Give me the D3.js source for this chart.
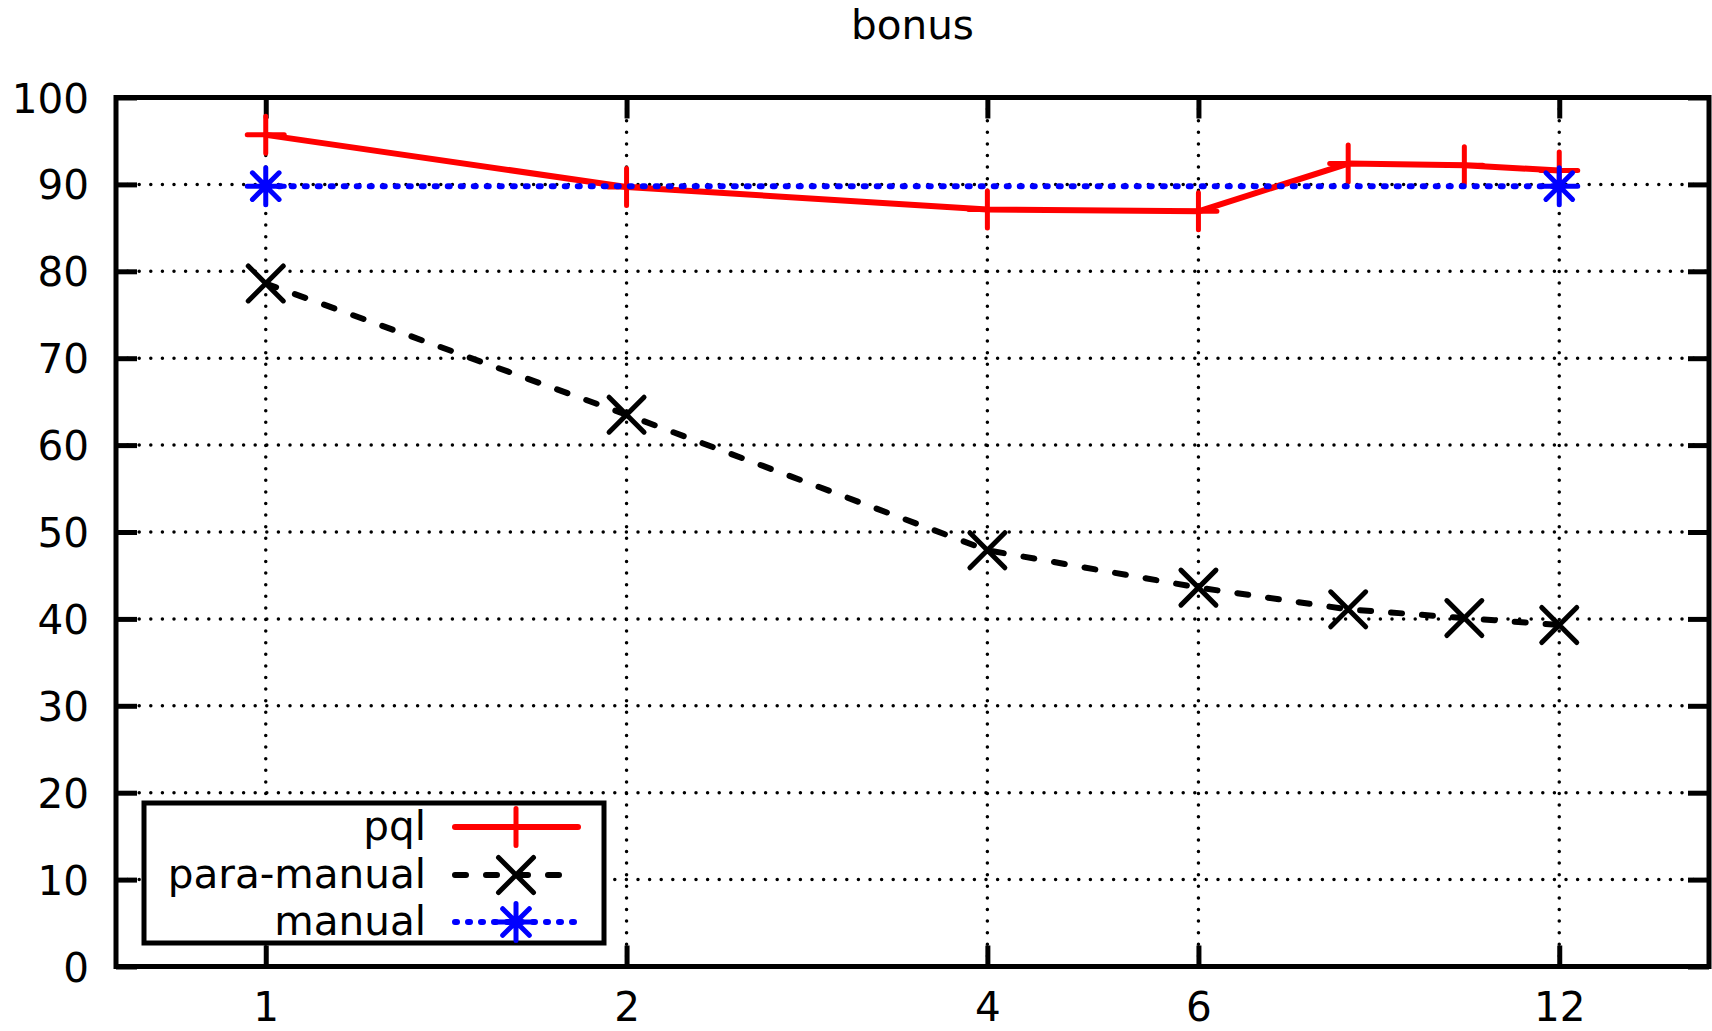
<!DOCTYPE html>
<html>
<head>
<meta charset="utf-8">
<script src="https://cdn.jsdelivr.net/npm/d3@7"></script>
<style>
html,body{margin:0;padding:0;background:#fff;}
svg{display:block;}
text{font-family:"DejaVu Sans",sans-serif;fill:#000;}
</style>
</head>
<body>
<svg id="chart" width="1712" height="1031"></svg>
<script>
// ---- data ----
const title = "bonus";
const xValues = [1, 2, 4, 6, 8, 10, 12];
const pqlValues = [95.7, 89.7, 87.1, 86.9, 92.4, 92.2, 91.6];
const paraManualValues = [78.6, 63.5, 47.9, 43.6, 41.1, 40.1, 39.3];
const manualX = [1, 12];
const manualValues = [89.8, 89.8];
const xTickValues = [1, 2, 4, 6, 12];
const xTickLabels = ["1", "2", "4", "6", "12"];
const yTickValues = [0, 10, 20, 30, 40, 50, 60, 70, 80, 90, 100];
const seriesNames = ["pql", "para-manual", "manual"];

// ---- layout ----
const plotL = 116, plotR = 1709, plotT = 97.5, plotB = 966.5;
const FS = 40.5;

const svg = d3.select("#chart");
const x = d3.scaleLog().domain([0.75, 16]).range([plotL, plotR]);
const y = d3.scaleLinear().domain([0, 100]).range([plotB, plotT]);

// grid
const gridG = svg.append("g");
gridG.selectAll("line.gy").data(yTickValues.filter(v => v > 0 && v < 100)).join("line")
  .attr("x1", plotL).attr("x2", plotR)
  .attr("y1", d => y(d)).attr("y2", d => y(d))
  .attr("stroke", "#000").attr("stroke-width", 3.5)
  .attr("stroke-dasharray", "0,11.6").attr("stroke-linecap", "round");
gridG.selectAll("line.gx").data(xTickValues).join("line")
  .attr("x1", d => x(d)).attr("x2", d => x(d))
  .attr("y1", plotT).attr("y2", plotB)
  .attr("stroke", "#000").attr("stroke-width", 3.5)
  .attr("stroke-dasharray", "0,11.6").attr("stroke-linecap", "round");

// axes (ticks inward, mirrored)
const tickLen = 21;
function styleAxis(g) {
  g.select(".domain").remove();
  g.selectAll(".tick line").attr("stroke", "#000").attr("stroke-width", 5);
}
svg.append("g").attr("transform", `translate(0,${plotB})`)
  .call(d3.axisBottom(x).tickValues(xTickValues).tickSize(-tickLen).tickFormat((d, i) => xTickLabels[i]))
  .call(styleAxis)
  .call(g => g.selectAll(".tick text").attr("y", 1021 - plotB).attr("dy", 0)
    .attr("font-size", FS).attr("font-family", "DejaVu Sans").attr("fill", "#000"));
svg.append("g").attr("transform", `translate(0,${plotT})`)
  .call(d3.axisTop(x).tickValues(xTickValues).tickSize(-tickLen).tickFormat(""))
  .call(styleAxis);
svg.append("g").attr("transform", `translate(${plotL},0)`)
  .call(d3.axisLeft(y).tickValues(yTickValues).tickSize(-tickLen))
  .call(styleAxis)
  .call(g => g.selectAll(".tick text").attr("x", 89 - plotL).attr("dy", 0).attr("y", 14.5)
    .attr("text-anchor", "end")
    .attr("font-size", FS).attr("font-family", "DejaVu Sans").attr("fill", "#000"));
svg.append("g").attr("transform", `translate(${plotR},0)`)
  .call(d3.axisRight(y).tickValues(yTickValues).tickSize(-tickLen).tickFormat(""))
  .call(styleAxis);

// frame
svg.append("rect").attr("x", plotL).attr("y", plotT).attr("width", plotR - plotL).attr("height", plotB - plotT)
  .attr("fill", "none").attr("stroke", "#000").attr("stroke-width", 5);

// title
svg.append("text").attr("x", (plotL + plotR) / 2).attr("y", 39).attr("text-anchor", "middle")
  .attr("font-size", FS).text(title);

// marker shapes
function plusPath(s) { return `M${-s},0H${s}M0,${-s}V${s}`; }
function crossPath(s) { return `M${-s},${-s}L${s},${s}M${-s},${s}L${s},${-s}`; }
function starPath(s) { return plusPath(s) + crossPath(s * 0.72); }

const styles = [
  { color: "#ff0000", dash: null, marker: plusPath(18.5) },
  { color: "#000000", dash: "11,20", marker: crossPath(17.5) },
  { color: "#0000ff", dash: "2,11", marker: starPath(18.5) }
];
const seriesData = [
  xValues.map((d, i) => [d, pqlValues[i]]),
  xValues.map((d, i) => [d, paraManualValues[i]]),
  manualX.map((d, i) => [d, manualValues[i]])
];

const line = d3.line().x(d => x(d[0])).y(d => y(d[1]));
const plotG = svg.append("g");
seriesData.forEach((data, si) => {
  const st = styles[si];
  const p = plotG.append("path").datum(data).attr("d", line)
    .attr("fill", "none").attr("stroke", st.color).attr("stroke-width", 6)
    .attr("stroke-linecap", "round").attr("stroke-linejoin", "round");
  if (st.dash) p.attr("stroke-dasharray", st.dash);
  plotG.selectAll(null).data(data).join("path")
    .attr("transform", d => `translate(${x(d[0])},${y(d[1])})`)
    .attr("d", st.marker).attr("fill", "none").attr("stroke", st.color)
    .attr("stroke-width", 5).attr("stroke-linecap", "round");
});

// legend
const lg = svg.append("g");
lg.append("rect").attr("x", 144).attr("y", 803).attr("width", 604 - 144).attr("height", 943 - 803)
  .attr("fill", "#fff").attr("stroke", "#000").attr("stroke-width", 5);
const rowY = [827, 875, 922];
seriesNames.forEach((name, i) => {
  const st = styles[i];
  lg.append("text").attr("x", 426).attr("y", rowY[i] + 13).attr("text-anchor", "end")
    .attr("font-size", FS).text(name);
  const l = lg.append("line").attr("x1", 455).attr("x2", 578).attr("y1", rowY[i]).attr("y2", rowY[i])
    .attr("stroke", st.color).attr("stroke-width", 6).attr("stroke-linecap", "round");
  if (st.dash) l.attr("stroke-dasharray", st.dash);
  lg.append("path").attr("transform", `translate(516,${rowY[i]})`).attr("d", st.marker)
    .attr("fill", "none").attr("stroke", st.color).attr("stroke-width", 5).attr("stroke-linecap", "round");
});
</script>
</body>
</html>
